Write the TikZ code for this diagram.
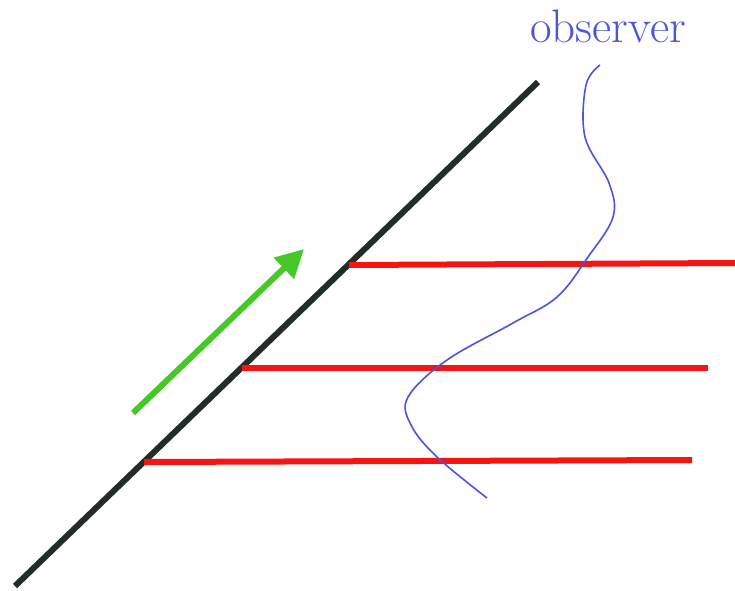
\documentclass[tikz,border=0pt]{standalone}
\usetikzlibrary{arrows.meta}
\definecolor{darkline}{RGB}{35,45,40}
\definecolor{redline}{RGB}{245,20,20}
\definecolor{greenarrow}{RGB}{70,200,40}
\definecolor{obsblue}{RGB}{75,85,215}
\tikzset{
  wall/.style={draw=darkline, line width=6pt},
  ray/.style={draw=redline, line width=6pt},
  motion/.style={draw=greenarrow, line width=6pt, -{Triangle[length=28pt, width=28pt]}},
  path/.style={draw=obsblue, line width=1.6pt},
  label/.style={text=obsblue, font=\fontsize{47}{52}\selectfont, inner sep=0pt}
}
\begin{document}
\begin{tikzpicture}[x=1pt, y=-1pt]
\useasboundingbox (0,0) rectangle (735,590);
% main line
\coordinate (w1) at (15,586);
\coordinate (w2) at (538,82);
\draw[wall] (w1) -- (w2);
% red lines
\coordinate (r1a) at (349,265); \coordinate (r1b) at (735,263);
\coordinate (r2a) at (242,368); \coordinate (r2b) at (708,368);
\coordinate (r3a) at (144,462); \coordinate (r3b) at (692,460);
\draw[ray] (r1a) -- (r1b);
\draw[ray] (r2a) -- (r2b);
\draw[ray] (r3a) -- (r3b);
% green arrow
\coordinate (g1) at (133,413);
\coordinate (g2) at (304,249);
\draw[motion] (g1) -- (g2);
% observer
\node[label, anchor=base] (obs) at (608,42) {observer};
\draw[path] plot[smooth, tension=0.6] coordinates {
 (600,65) (586,85) (585,137) (609,183) (613,217) (588,257) (557,297)
 (513,323) (447,360) (408,397) (411,425) (437,457) (487,498)};
\end{tikzpicture}
\end{document}
